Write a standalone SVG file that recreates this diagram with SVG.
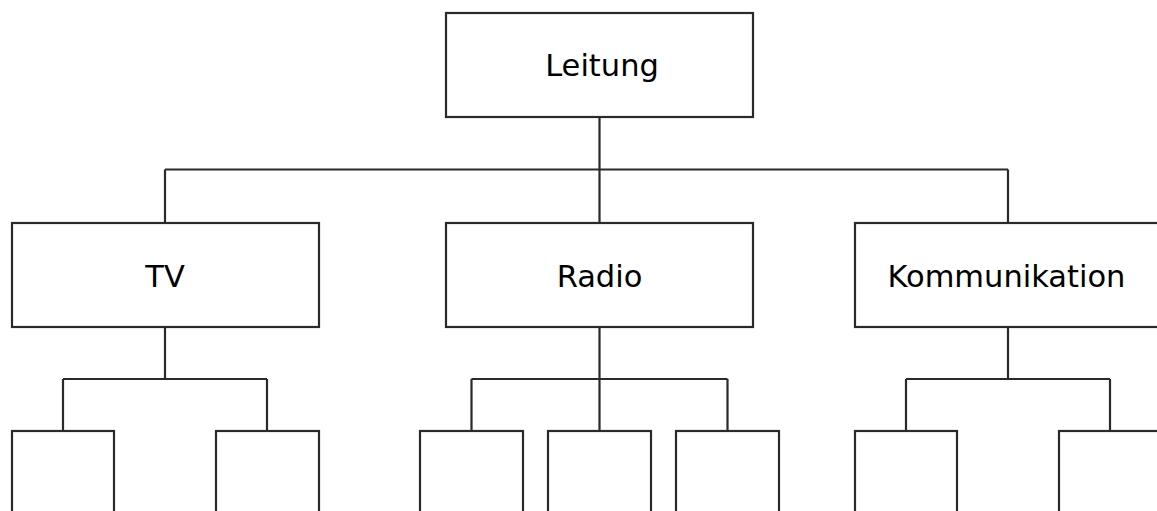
<svg xmlns="http://www.w3.org/2000/svg" width="1157" height="511" viewBox="0 0 1157 511">
<style>
.box{fill:#fff;stroke:#2a2a2a;stroke-width:2.2}
.ln{fill:none;stroke:#2a2a2a;stroke-width:2.2}
.lbl{font-family:"DejaVu Sans",sans-serif;font-size:30.5px;fill:#000;text-anchor:middle}
</style>
<rect width="1157" height="511" fill="#fff"/>
<g id="connectors">
<path class="ln" d="M599.5 117V169.5M165 169.5H1008M165 169.5V223M599.5 169.5V223M1008 169.5V223"/>
<path class="ln" d="M165 327V379M63 379H267M63 379V431M267 379V431"/>
<path class="ln" d="M599.5 327V379M471.5 379H727.5M471.5 379V431M599.5 379V431M727.5 379V431"/>
<path class="ln" d="M1008 327V379M906 379H1110M906 379V431M1110 379V431"/>
</g>
<g id="leitung"><rect class="box" x="446" y="13" width="307" height="104"/><text class="lbl" x="602" y="76">Leitung</text></g>
<g id="tv"><rect class="box" x="12" y="223" width="307" height="104"/><text class="lbl" x="165" y="287">TV</text></g>
<g id="radio"><rect class="box" x="446" y="223" width="307" height="104"/><text class="lbl" x="599.5" y="287">Radio</text></g>
<g id="kommunikation"><rect class="box" x="855" y="223" width="307" height="104"/><text class="lbl" x="1006.5" y="287">Kommunikation</text></g>
<g id="tv1"><rect class="box" x="12" y="431" width="102" height="100"/></g>
<g id="tv2"><rect class="box" x="216" y="431" width="103" height="100"/></g>
<g id="radio1"><rect class="box" x="420" y="431" width="103" height="100"/></g>
<g id="radio2"><rect class="box" x="548" y="431" width="103" height="100"/></g>
<g id="radio3"><rect class="box" x="676" y="431" width="103" height="100"/></g>
<g id="komm1"><rect class="box" x="855" y="431" width="102" height="100"/></g>
<g id="komm2"><rect class="box" x="1059" y="431" width="103" height="100"/></g>
</svg>
